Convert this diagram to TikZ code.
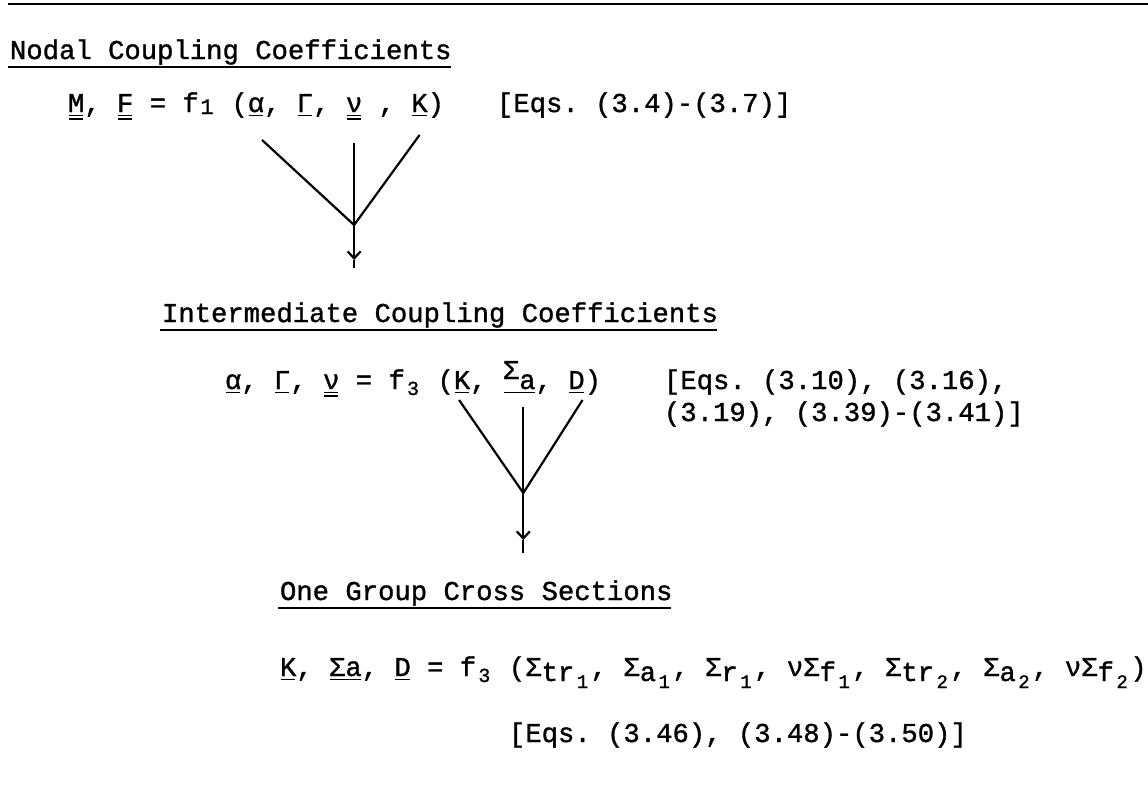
\documentclass[tikz,border=0pt]{standalone}
\usepackage{fontspec}
\usetikzlibrary{calc,arrows.meta}
\newfontfamily\tw{Liberation Mono}[FakeBold=1.2]
\def\p{16.35}
\newcommand\sbx[3]{\makebox[\p pt][c]{\raisebox{-#1pt}{\fontsize{#2}{#2}\selectfont #3}}}
\newcommand\lo[1]{\raisebox{-5pt}{#1}}
\newcommand\tok[4]{\node[tok] (#1) at ($(#2)+(#3*\p,0)$) {#4};}
\newcommand\uone[1]{\draw[ul] ([xshift=1pt,yshift=-3.5pt]#1.base west) -- ([xshift=-1pt,yshift=-3.5pt]#1.base east);}
\newcommand\utwo[1]{\uone{#1}\draw[ul] ([xshift=1pt,yshift=-7pt]#1.base west) -- ([xshift=-1pt,yshift=-7pt]#1.base east);}
\newcommand\tul[1]{\draw[tul] ([xshift=-2pt,yshift=-8pt]#1.base west) -- ([xshift=-1pt,yshift=-8pt]#1.base east);}
\tikzset{
  tok/.style={anchor=base west, inner sep=0pt, outer sep=0pt, font=\tw\fontsize{27.25pt}{30pt}\selectfont\frenchspacing},
  ul/.style={line width=1.6pt},
  tul/.style={line width=2.5pt},
  conn/.style={line width=2.2pt},
  rule/.style={line width=2.8pt},
}
\begin{document}
\begin{tikzpicture}[x=1pt,y=-1pt]
\fill[white] (0,0) rectangle (1148,806);
\useasboundingbox (0,0) rectangle (1148,806);
% top rule
\coordinate (r0) at (8,4);
\coordinate (r1) at (1148,4);
\draw[rule] (r0) -- (r1);
% ---------- section 1
\node[tok] (t1) at (10,59) {Nodal Coupling Coefficients};
\tul{t1}
\coordinate (o2) at (68,112);
\tok{m2}{o2}{0}{M}
\tok{c2a}{o2}{1}{,}
\tok{f2}{o2}{3}{F}
\tok{c2b}{o2}{5}{= f\sbx{2}{22}{1} (}
\tok{al2}{o2}{11}{α}
\tok{c2c}{o2}{12}{,}
\tok{g2}{o2}{14}{Γ}
\tok{c2d}{o2}{15}{,}
\tok{nu2}{o2}{17}{ν}
\tok{c2e}{o2}{19}{,}
\tok{k2}{o2}{21}{K}
\tok{c2f}{o2}{22}{)}
\node[tok] (eq1) at (497,112) {[Eqs. (3.4)-(3.7)]};
\utwo{m2}\utwo{f2}\uone{al2}\uone{g2}\utwo{nu2}\uone{k2}
% funnel 1
\coordinate (j1) at ([yshift=-113pt]nu2.base);
\coordinate (b1) at ([yshift=-35pt]j1);
\coordinate (e1) at ([yshift=-43pt]j1);
\draw[conn] ([xshift=6pt,yshift=-28pt]al2.base) -- (j1);
\draw[conn] ([yshift=-31pt]nu2.base) -- (j1);
\draw[conn] ([yshift=-23pt]k2.base) -- (j1);
\draw[conn,-{Straight Barb[length=7pt,width=13pt]}] (j1) -- (b1);
\draw[conn] (b1) -- (e1);
% ---------- section 2
\node[tok] (t2) at (162,322) {Intermediate Coupling Coefficients};
\tul{t2}
\coordinate (o3) at (225,389);
\tok{al3}{o3}{0}{α}
\tok{c3a}{o3}{1}{,}
\tok{g3}{o3}{3}{Γ}
\tok{c3b}{o3}{4}{,}
\tok{nu3}{o3}{6}{ν}
\tok{c3c}{o3}{8}{= f\sbx{6}{20}{3} (}
\tok{k3}{o3}{14}{K}
\tok{c3d}{o3}{15}{,}
\tok{sa3}{o3}{17}{\raisebox{10pt}{Σ}a}
\tok{c3e}{o3}{19}{,}
\tok{d3}{o3}{21}{D}
\tok{c3f}{o3}{22}{)}
\node[tok] (eq2a) at (664,389) {[Eqs. (3.10), (3.16),};
\node[tok] (eq2b) at (664,421) {(3.19), (3.39)-(3.41)]};
\uone{al3}\uone{g3}\utwo{nu3}\uone{k3}\uone{sa3}\uone{d3}
% funnel 2
\coordinate (j2) at ([xshift=4pt,yshift=-104pt]sa3.base);
\coordinate (b2) at ([yshift=-47pt]j2);
\coordinate (e2) at ([yshift=-60pt]j2);
\draw[conn] ([xshift=-3pt,yshift=-11pt]k3.base) -- (j2);
\draw[conn] ([xshift=4pt,yshift=-18pt]sa3.base) -- (j2);
\draw[conn] ([xshift=6pt,yshift=-11pt]d3.base) -- (j2);
\draw[conn,-{Straight Barb[length=7pt,width=13pt]}] (j2) -- (b2);
\draw[conn] (b2) -- (e2);
% ---------- section 3
\node[tok] (t3) at (280,600) {One Group Cross Sections};
\tul{t3}
\coordinate (o4) at (280,676);
\tok{k4}{o4}{0}{K}
\tok{c4a}{o4}{1}{,}
\tok{sa4}{o4}{3}{Σa}
\tok{c4b}{o4}{5}{,}
\tok{d4}{o4}{7}{D}
\tok{c4c}{o4}{9}{= f\sbx{6}{20}{3} (Σ\lo{tr}\sbx{12}{19}{1}, Σ\lo{a}\sbx{12}{19}{1}, Σ\lo{r}\sbx{12}{19}{1}, νΣ\lo{f}\sbx{12}{19}{1}, Σ\lo{tr}\sbx{12}{19}{2}, Σ\lo{a}\sbx{12}{19}{2}, νΣ\lo{f}\sbx{12}{19}{2})}
\uone{k4}\uone{sa4}\uone{d4}
\node[tok] (eq3) at (509,742) {[Eqs. (3.46), (3.48)-(3.50)]};
\end{tikzpicture}
\end{document}
